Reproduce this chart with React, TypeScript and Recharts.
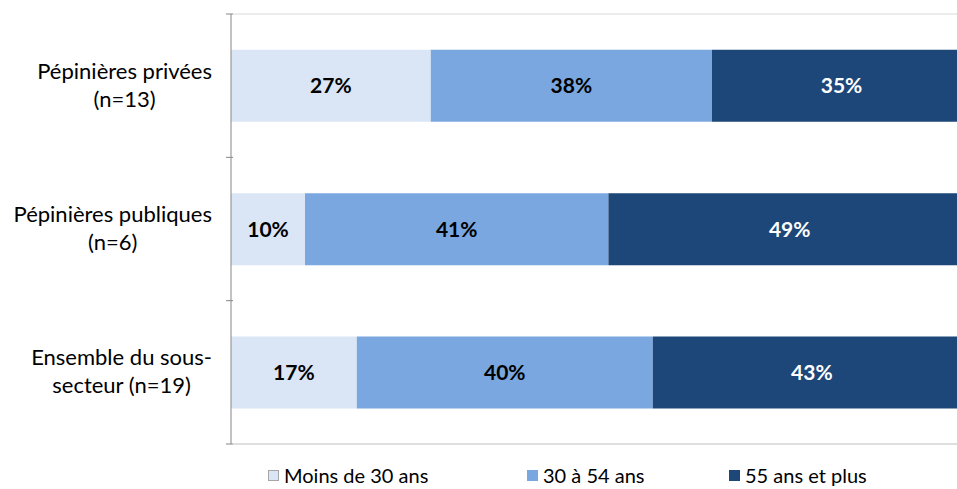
import React from 'react';
import {
  BarChart,
  Bar,
  XAxis,
  YAxis,
  LabelList,
  Legend,
} from 'recharts';

/* ---------------------------------------
   DATA
---------------------------------------- */
const categories = [
  'Pépinières privées|(n=13)',
  'Pépinières publiques|(n=6)',
  'Ensemble du sous-|secteur (n=19)',
];
const moins30 = [27, 10, 17];
const de30a54 = [38, 41, 40];
const plus55 = [35, 49, 43];
const seriesNames = ['Moins de 30 ans', '30 à 54 ans', '55 ans et plus'];

const COLORS = ['#DAE6F5', '#7AA7DF', '#1D4679'];
const FONT = 'Lato, "Open Sans", sans-serif';
const FONT_SIZE = 22;

const data = categories.map((name, i) => ({
  name,
  a: moins30[i],
  b: de30a54[i],
  c: plus55[i],
}));

/* ---------------------------------------
   HELPERS
---------------------------------------- */
let ctx: CanvasRenderingContext2D | null = null;
function textWidth(s: string) {
  if (!ctx) ctx = document.createElement('canvas').getContext('2d');
  if (!ctx) return s.length * 10;
  ctx.font = `${FONT_SIZE}px ${FONT}`;
  return ctx.measureText(s).width;
}

// category label + tick marks at the band boundaries (+ plot border top/bottom)
function CategoryTick(props: any) {
  const { x, y, payload, index, visibleTicksCount } = props;
  const lines: string[] = String(payload.value).split('|');
  const right = x - 13;
  const maxW = Math.max(...lines.map(textWidth));
  const cx = right - maxW / 2;
  const lh = 28;
  const startY = y - ((lines.length - 1) * lh) / 2 - 1;
  const half = payload.offset || 0;
  const axisX = x + 8;
  const last = index === visibleTicksCount - 1;
  return (
    <g>
      {index === 0 && (
        <line x1={axisX} x2={axisX + 1000} y1={y - half} y2={y - half} stroke="#D9D9D9" />
      )}
      {last && (
        <line x1={axisX} x2={axisX + 1000} y1={y + half} y2={y + half} stroke="#BFBFBF" />
      )}
      <line x1={axisX - 7} x2={axisX} y1={y - half} y2={y - half} stroke="#868686" />
      {last && (
        <line x1={axisX - 7} x2={axisX} y1={y + half} y2={y + half} stroke="#868686" />
      )}
      <text
        textAnchor="middle"
        fontFamily={FONT}
        fontSize={FONT_SIZE}
        fill="#000"
      >
        {lines.map((l, i) => (
          <tspan key={i} x={cx} y={startY + i * lh} dy="0.36em">
            {l}
          </tspan>
        ))}
      </text>
    </g>
  );
}

function LegendContent() {
  const widths = [259, 202, 180];
  return (
    <div style={{ display: 'flex', fontFamily: FONT, fontSize: 20 }}>
      {seriesNames.map((n, i) => (
        <div
          key={n}
          style={{ width: widths[i], display: 'flex', alignItems: 'center' }}
        >
          <span
            style={{
              width: 11,
              height: 11,
              background: COLORS[i],
              border: i === 0 ? '1px solid #A6A6A6' : 'none',
              marginRight: 5,
              boxSizing: 'border-box',
            }}
          />
          <span style={{ color: '#000' }}>{n}</span>
        </div>
      ))}
    </div>
  );
}

/* ---------------------------------------
   MAIN COMPONENT
---------------------------------------- */
export default function App() {
  return (
    <div
      style={{
        position: 'absolute',
        left: 0,
        top: 0,
        width: 957,
        height: 489,
        overflow: 'hidden',
        background: '#fff',
      }}
    >
      <BarChart
        width={975}
        height={489}
        data={data}
        layout="vertical"
        margin={{ top: 14, right: 4, left: 0, bottom: 21 }}
        barCategoryGap="25%"
      >
        <XAxis type="number" domain={[0, 100]} hide />
        <YAxis
          type="category"
          dataKey="name"
          width={231}
          axisLine={{ stroke: '#868686' }}
          tickLine={false}
          tickMargin={0}
          tick={<CategoryTick />}
        />
        <Legend
          verticalAlign="bottom"
          content={<LegendContent />}
          wrapperStyle={{ left: 268, bottom: 2, width: 700 }}
        />
        <Bar dataKey="a" stackId="s" fill={COLORS[0]} isAnimationActive={false}>
          <LabelList
            dataKey="a"
            position="center"
            formatter={(v: any) => `${v}%`}
            fill="#000"
            fontWeight="bold"
            fontFamily={FONT}
            fontSize={21}
          />
        </Bar>
        <Bar dataKey="b" stackId="s" fill={COLORS[1]} isAnimationActive={false}>
          <LabelList
            dataKey="b"
            position="center"
            formatter={(v: any) => `${v}%`}
            fill="#000"
            fontWeight="bold"
            fontFamily={FONT}
            fontSize={21}
          />
        </Bar>
        <Bar dataKey="c" stackId="s" fill={COLORS[2]} isAnimationActive={false}>
          <LabelList
            dataKey="c"
            position="center"
            formatter={(v: any) => `${v}%`}
            fill="#fff"
            fontWeight="bold"
            fontFamily={FONT}
            fontSize={21}
          />
        </Bar>
      </BarChart>
    </div>
  );
}
